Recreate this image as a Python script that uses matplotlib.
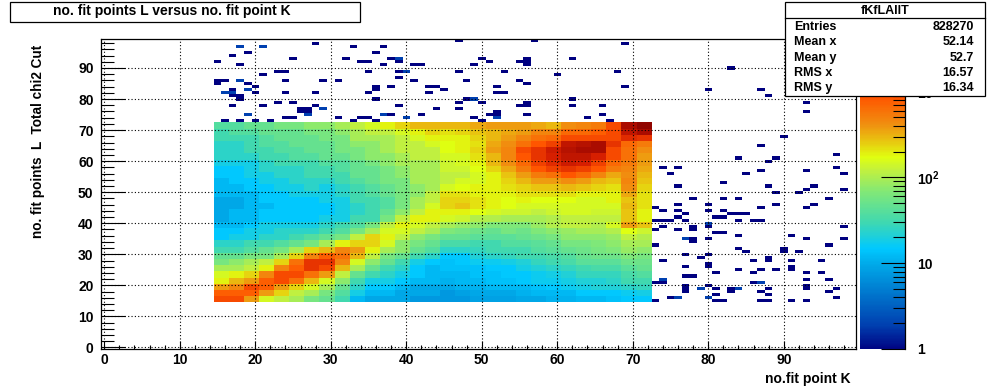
import numpy as np
import matplotlib
matplotlib.use('Agg')
import matplotlib.pyplot as plt
from matplotlib.colors import LinearSegmentedColormap, LogNorm
from matplotlib.patches import Rectangle
from matplotlib.ticker import FixedLocator, FixedFormatter, NullFormatter

plt.rcParams['font.family'] = ['Liberation Sans', 'DejaVu Sans']
plt.rcParams['font.weight'] = 'bold'
plt.rcParams['mathtext.fontset'] = 'custom'
plt.rcParams['mathtext.bf'] = 'Liberation Sans:bold'
plt.rcParams['mathtext.rm'] = 'Liberation Sans:bold'

W, H = 1006, 388

# main block, 2 unit bins from 14.5 to 72.5, values are 100*log10(counts), top row first
main_levels = [
    [160,160,170,170,180,180,190,190,200,210,220,230,240,250,250,250,250,255,260,260,260,255,250,265,270,275,300,340,350],
    [150,160,160,170,170,170,180,180,190,200,210,210,220,230,240,235,240,245,250,255,260,270,270,285,285,290,300,330,340],
    [150,150,150,160,170,170,170,180,180,200,200,200,210,220,230,230,230,240,250,260,270,280,285,300,300,300,300,315,310],
    [140,140,150,160,160,170,170,170,180,190,190,200,210,210,220,225,230,235,255,265,280,295,305,330,335,340,310,285,275],
    [140,140,150,150,160,160,170,170,180,180,190,200,210,210,210,225,230,240,260,270,300,310,325,335,340,340,300,280,265],
    [140,140,140,150,150,160,160,170,170,180,190,190,200,210,210,220,220,235,250,270,295,310,320,330,330,320,300,280,260],
    [130,130,130,140,150,150,150,160,160,170,180,190,200,200,200,215,220,230,250,265,285,305,315,325,320,305,285,275,260],
    [120,120,130,140,140,140,150,150,160,170,170,180,190,200,200,215,215,225,240,255,275,295,305,310,305,295,275,270,255],
    [120,120,130,130,140,140,150,150,150,170,170,180,190,200,200,210,210,220,230,245,260,275,280,295,285,270,255,265,250],
    [110,120,120,130,130,140,140,140,150,160,170,180,180,200,200,210,220,220,230,240,250,260,260,265,260,250,245,270,245],
    [110,110,120,120,130,130,140,130,140,150,160,170,180,190,200,220,225,230,230,235,240,245,245,250,245,240,235,265,240],
    [110,110,110,120,120,130,130,130,140,150,160,170,180,190,210,235,235,230,230,230,235,235,235,235,230,230,230,255,235],
    [100,100,110,120,120,120,120,130,130,150,150,160,180,200,210,240,240,235,230,225,230,225,225,225,220,220,230,245,235],
    [100,100,110,110,120,120,120,120,130,140,150,160,180,200,220,240,245,235,230,225,220,220,220,220,220,220,220,250,235],
    [100,110,110,120,120,120,120,120,130,140,150,170,190,210,230,230,230,225,220,215,215,210,215,220,220,215,215,245,230],
    [100,110,110,120,120,120,120,130,130,150,150,180,210,230,230,220,215,205,205,200,200,200,205,210,210,210,210,245,230],
    [110,110,120,130,130,130,130,140,150,160,180,210,230,220,210,200,195,190,185,185,185,195,205,210,210,205,220,260,245],
    [120,120,130,130,140,140,140,150,160,180,200,220,220,210,200,185,180,175,170,180,175,185,190,195,200,200,205,225,215],
    [120,130,130,140,140,150,160,170,180,210,240,230,210,190,180,170,170,165,165,165,170,175,180,190,190,190,195,210,205],
    [140,140,150,150,160,170,180,200,230,240,240,220,190,180,170,155,155,150,150,160,160,165,170,180,180,185,190,200,200],
    [150,150,160,170,180,200,240,250,270,260,230,200,190,170,160,140,140,145,150,150,150,160,165,170,175,180,185,195,190],
    [170,170,180,180,200,240,270,290,280,250,210,180,170,150,140,120,120,135,140,145,150,150,155,160,170,175,175,185,180],
    [180,190,200,210,240,280,310,310,270,220,190,170,150,130,120,115,120,125,125,130,135,145,150,155,165,165,165,175,175],
    [200,200,210,230,270,290,310,300,250,200,170,150,140,120,110,115,115,115,120,120,130,135,140,145,150,155,155,165,170],
    [220,230,240,270,300,300,280,260,210,170,150,140,130,120,110,110,110,115,115,120,120,125,130,135,145,145,145,155,160],
    [230,250,260,290,300,280,250,220,190,150,130,130,120,110,110,105,110,110,115,115,120,125,125,130,135,135,140,150,150],
    [260,270,300,290,260,240,220,200,170,140,120,120,110,100,100,100,105,105,110,110,110,115,120,125,130,135,135,140,145],
    [290,290,290,260,240,210,200,180,160,130,110,110,100,100,100,90,95,100,100,100,105,110,110,110,120,120,120,125,130],
    [300,300,260,220,210,200,180,170,150,110,100,100,100,90,90,90,90,95,95,95,100,100,105,105,110,110,115,120,120],
]

# isolated 1 unit bins outside the block (x, y), one entry
single_cells = [
    (47,99),(57,99),(28,98),(69,98),(33,97),(37,97),(19,95),(36,95),(17,94),(25,93),(32,93),(38,93),
    (50,93),(56,93),(62,93),(15,92),(34,92),(35,92),(39,92),(51,92),(55,92),(56,92),(18,91),(37,91),
    (41,91),(42,91),(49,91),(56,91),(83,90),(23,89),(24,89),(35,89),(39,89),(47,89),(53,89),(68,89),
    (21,88),(60,88),(39,87),(15,86),(16,86),(24,86),(29,86),(31,86),(41,86),(48,86),(55,86),(15,85),
    (19,85),(56,85),(20,84),(36,84),(38,84),(43,84),(44,84),(52,84),(69,84),(17,83),(36,83),(45,83),
    (80,83),(87,83),(20,82),(24,82),(28,82),(35,82),(43,82),(52,82),(53,82),(17,81),(18,81),(88,81),
    (18,80),(36,80),(48,80),(62,80),(23,79),(25,79),(47,79),(50,79),(56,79),(93,79),(17,78),(21,78),
    (28,78),(39,78),(55,78),(56,78),(62,78),(66,78),(26,77),(27,77),(44,77),(47,77),(26,76),(27,76),
    (52,76),(93,76),(38,75),(42,75),(51,75),(52,75),(56,75),(66,75),(24,74),(25,74),(31,74),(34,74),
    (35,74),(49,74),(64,74),(16,73),(18,73),(20,73),(22,73),(33,73),(36,73),(50,73),(67,73),(90,68),
    (87,65),(97,62),(84,61),(89,61),(88,60),(74,58),(76,58),(97,58),(87,57),(93,57),(75,56),(85,56),
    (98,56),(82,53),(76,52),(88,52),(94,52),(93,51),(98,51),(89,50),(92,50),(78,48),(82,48),(84,48),
    (96,48),(76,46),(80,46),(89,46),(94,46),(73,45),(87,45),(93,45),(74,44),(76,44),(80,44),(82,44),
    (77,43),(83,43),(84,43),(85,43),(76,42),(81,42),(82,42),(73,41),(74,41),(75,41),(77,41),(84,41),
    (86,41),(87,41),(74,39),(78,39),(80,39),(98,39),(73,38),(76,38),(78,38),(81,37),(82,37),(84,36),
    (91,36),(78,35),(80,35),(93,35),(98,35),(78,34),(73,33),(96,33),(84,32),(90,32),(85,31),(90,31),
    (92,31),(77,30),(80,30),(79,29),(88,29),(74,28),(86,28),(88,28),(91,28),(95,28),(80,27),(77,26),
    (80,26),(91,26),(84,25),(87,25),(89,25),(91,25),(81,24),(86,24),(93,24),(95,24),(77,23),(78,23),
    (93,22),(96,22),(73,21),(74,21),(86,21),(77,20),(80,20),(93,20),(77,19),(81,19),(83,19),(88,19),
    (93,19),(97,19),(77,18),(83,18),(87,18),(96,18),(81,17),(88,17),(75,16),(97,16),(73,15),(81,15),
    (82,15),(87,15),(88,15),(91,15),(93,15),
]
# same, two entries
double_cells = [
    (18,97),(21,97),(39,93),(40,89),(18,86),(19,83),(16,82),(17,82),(49,80),(29,77),(19,75),(27,75),
    (37,75),(40,74),(52,74),(80,40),(77,35),(74,22),(87,21),(79,19),(84,19),(76,16),(80,16),
]

entries = "828270"
stats_names = ["Entries", "Mean x", "Mean y", "RMS x", "RMS y"]
stats_values = [entries, "52.14", "52.7", "16.57", "16.34"]

x_ticks = list(range(0, 100, 10))
y_ticks = list(range(0, 100, 10))

# palette: (log10 counts, colour)
vmax = 10 ** 3.62
palette = [(0, '#000080'), (0.3, '#0040b0'), (1.0, '#00a8e8'), (1.19, '#00c8ff'), (1.5, '#40d8b0'),
           (1.85, '#80e878'), (2.1, '#c0f040'), (2.26, '#e0ff10'), (2.44, '#e8c810'), (2.64, '#f09010'),
           (2.96, '#ff5500'), (3.2, '#d82000'), (3.45, '#a00800'), (3.62, '#700000')]
cmap = LinearSegmentedColormap.from_list('root', [(v / 3.62, c) for v, c in palette], N=256)
norm = LogNorm(vmin=1, vmax=vmax)


def box(left, top, right, bottom):
    return [left / W, 1 - bottom / H, (right - left) / W, (bottom - top) / H]


fig = plt.figure(figsize=(W / 100, H / 100), dpi=100)
ax = fig.add_axes(box(100.5, 38.5, 855.5, 349))

# main block
levels = np.array(main_levels[::-1], dtype=float)
edges = np.arange(14.5, 73, 2)
mesh = ax.pcolormesh(edges, edges, 10 ** (levels / 100), cmap=cmap, norm=norm, antialiased=False, zorder=1)

# sparse bins
sparse = np.full((100, 100), np.nan)
for cx, cy in single_cells:
    sparse[cy, cx] = 1
for cx, cy in double_cells:
    sparse[cy, cx] = 2
sparse_edges = np.arange(-0.5, 100, 1)
ax.pcolormesh(sparse_edges, sparse_edges, sparse, cmap=cmap, norm=norm, antialiased=False, zorder=1)

ax.set_xlim(-0.5, 99.5)
ax.set_ylim(-0.5, 99.5)
ax.set_axisbelow(False)
ax.set_xticks(x_ticks)
ax.set_yticks(y_ticks)
ax.set_xticks(np.arange(0, 100, 2), minor=True)
ax.set_yticks(np.arange(0, 100, 2), minor=True)
ax.grid(True, which='major', color='black', linestyle=(0, (1, 2)), linewidth=0.8, zorder=3)
ax.tick_params(axis='x', which='major', direction='in', length=6, width=0.8, labelsize=10, pad=3)
ax.tick_params(axis='x', which='minor', direction='in', length=3, width=0.8)
ax.tick_params(axis='y', which='major', direction='in', length=17.5, width=0.8, labelsize=10, pad=5)
ax.tick_params(axis='y', which='minor', direction='in', length=9, width=0.8)
for s in ax.spines.values():
    s.set_linewidth(0.9)

# colour bar
cax = fig.add_axes(box(860, 38.5, 905, 349))
cb = fig.colorbar(mesh, cax=cax)
cb.outline.set_visible(False)
cb.solids.set_edgecolor('face')
cax.spines['right'].set_visible(True)
cax.spines['right'].set_linewidth(0.9)
cax.yaxis.set_ticks_position('right')
cax.yaxis.set_major_locator(FixedLocator([1, 10, 100, 1000]))
cax.yaxis.set_major_formatter(FixedFormatter(['1', '10', r'$\mathbf{10^{2}}$', r'$\mathbf{10^{3}}$']))
minor = [m * 10 ** d for d in range(4) for m in range(2, 10) if m * 10 ** d < vmax]
cax.yaxis.set_minor_locator(FixedLocator(minor))
cax.yaxis.set_minor_formatter(NullFormatter())
cax.tick_params(axis='y', which='major', direction='in', length=17.5, width=0.8, labelsize=10, pad=8.5)
cax.tick_params(axis='y', which='minor', direction='in', length=9, width=0.8)

# overlay in pixel coordinates for the boxes and titles
over = fig.add_axes([0, 0, 1, 1], zorder=10)
over.set_xlim(0, W)
over.set_ylim(H, 0)
over.axis('off')
over.patch.set_alpha(0)

over.add_patch(Rectangle((10.5, 1.5), 350, 20, facecolor='white', edgecolor='black', linewidth=0.9))
over.text(172, 11.5, "no. fit points L versus no. fit point K", ha='center', va='center', fontsize=10)

over.add_patch(Rectangle((785, 1.5), 200, 94, facecolor='white', edgecolor='black', linewidth=0.9))
over.plot([785, 985], [17.5, 17.5], color='black', linewidth=0.9)
over.text(885, 11.5, "fKfLAllT", ha='center', va='center', fontsize=9)
stats_y = [27, 42, 58, 73, 88]
for name, value, y in zip(stats_names, stats_values, stats_y):
    over.text(794, y, name, ha='left', va='center', fontsize=9)
    over.text(974, y, value, ha='right', va='center', fontsize=9)

over.text(851, 379, "no.fit point K", ha='right', va='center', fontsize=10)
over.text(38, 238, "no. fit points  L  Total chi2 Cut", rotation=90, ha='center', va='bottom', fontsize=9.8)

fig.savefig('out.png', dpi=100)
